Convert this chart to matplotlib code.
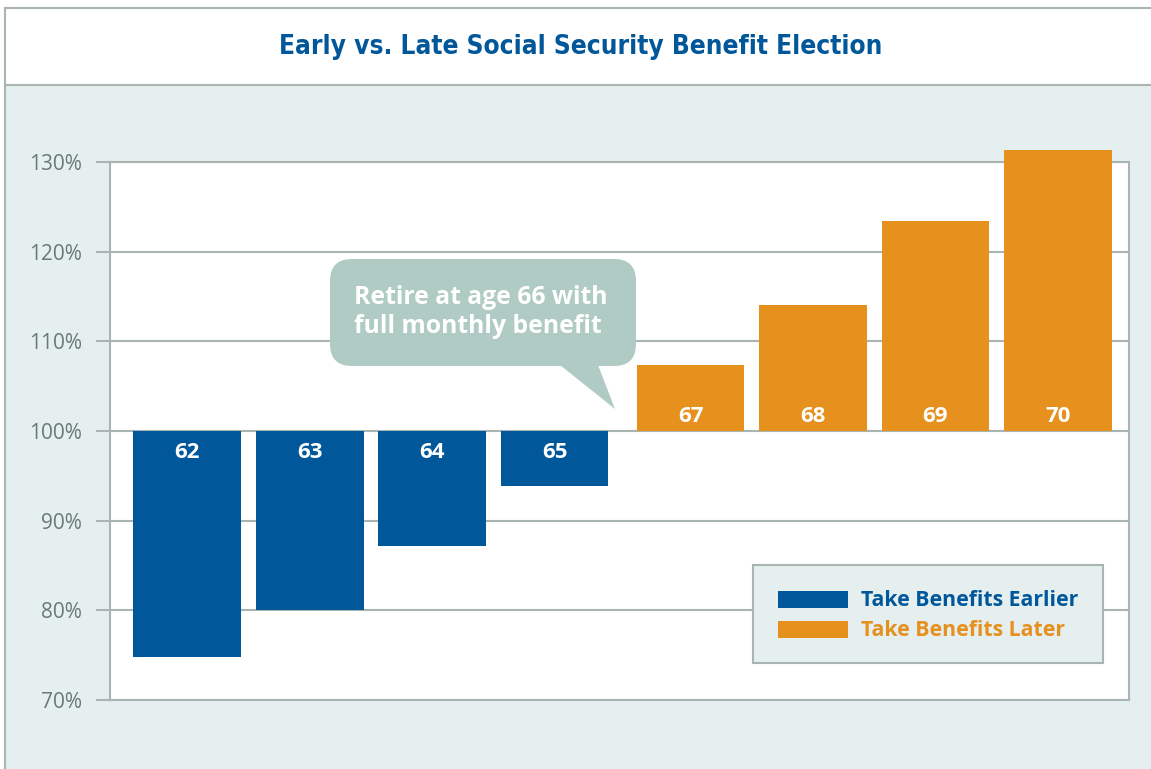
import matplotlib.pyplot as plt
from matplotlib.patches import Rectangle, FancyBboxPatch, Polygon
from matplotlib.lines import Line2D
from matplotlib.transforms import IdentityTransform

ages = ["62", "63", "64", "65", "67", "68", "69", "70"]
benefit = [74.8, 80.0, 87.2, 93.9, 107.4, 114.0, 123.4, 131.3]
early = [True, True, True, True, False, False, False, False]
yticks = [70, 80, 90, 100, 110, 120, 130]
ytick_labels = ["70%", "80%", "90%", "100%", "110%", "120%", "130%"]

BLUE = "#00579a"
ORANGE = "#e6901d"
BG = "#e5eff0"
GRID = "#a9b5b1"
TICK = "#6a7a72"
BUBBLE = "#afcbc3"
FONT = "Open Sans"

W, H = 1151, 769
fig = plt.figure(figsize=(W / 100, H / 100), dpi=100)
fig.patch.set_facecolor("white")
px = IdentityTransform()

# background panel and title band
fig.add_artist(Rectangle((5, 0), W, H - 85, transform=px, facecolor=BG,
                         edgecolor="none", zorder=0))
fig.add_artist(Line2D([5, W], [H - 85, H - 85], transform=px, color=GRID, lw=1.5))
fig.add_artist(Line2D([5, W], [H - 8, H - 8], transform=px, color=GRID, lw=1.5))
fig.add_artist(Line2D([5, 5], [0, H - 8], transform=px, color=GRID, lw=1.5))
fig.text(581 / W, 1 - 47 / H, "Early vs. Late Social Security Benefit Election",
         ha="center", va="center", fontsize=18.8, fontweight="bold", color=BLUE,
         family="DejaVu Sans", fontstretch="condensed")

ax = fig.add_axes([110 / W, 1 - 700 / H, (1129 - 110) / W, (700 - 162) / H])
ax.set_facecolor("white")

# x positions: late group shifted slightly right
xpos = [i + (0.11 if not e else 0.0) for i, e in enumerate(early)]
for x, v, e, lab in zip(xpos, benefit, early, ages):
    col = BLUE if e else ORANGE
    ax.bar(x, v - 100, bottom=100, width=0.88, color=col, zorder=3, clip_on=False)
    ty = 97.6 if e else 101.6
    ax.text(x, ty, lab, ha="center", va="center", color="white",
            fontsize=16, fontweight="bold", family=FONT, zorder=4)

ax.set_xlim(-0.63, 7.69)
ax.set_ylim(70, 130)
ax.set_yticks(yticks)
ax.set_yticklabels(ytick_labels, family=FONT, fontsize=15, color=TICK)
ax.set_xticks([])
ax.tick_params(axis="y", length=10, width=1.5, color=GRID, pad=10)
ax.yaxis.grid(True, color=GRID, lw=1.5, zorder=1)
ax.set_axisbelow(True)
for s in ax.spines.values():
    s.set_color(GRID)
    s.set_linewidth(1.5)

# speech bubble
fig.add_artist(FancyBboxPatch((330, H - 366), 306, 107, transform=px,
                              boxstyle="round,pad=0,rounding_size=22",
                              facecolor=BUBBLE, edgecolor="none", zorder=5))
fig.add_artist(Polygon([(560, H - 365), (598, H - 365), (615, H - 409)],
                       transform=px, closed=True, facecolor=BUBBLE,
                       edgecolor="none", zorder=5))
fig.text(354 / W, 1 - 312 / H, "Retire at age 66 with\nfull monthly benefit",
         ha="left", va="center", fontsize=17.8, fontweight="bold", color="white",
         family=FONT, linespacing=1.25, zorder=6)

# legend box
fig.add_artist(Rectangle((753, H - 663), 350, 98, transform=px, facecolor=BG,
                         edgecolor=GRID, lw=1.5, zorder=5))
fig.add_artist(Rectangle((778, H - 608), 70, 17, transform=px, facecolor=BLUE,
                         edgecolor="none", zorder=6))
fig.add_artist(Rectangle((778, H - 638), 70, 17, transform=px, facecolor=ORANGE,
                         edgecolor="none", zorder=6))
fig.text(861 / W, 1 - 600 / H, "Take Benefits Earlier", ha="left", va="center",
         fontsize=15.3, fontweight="bold", color=BLUE, family=FONT, zorder=6)
fig.text(861 / W, 1 - 630 / H, "Take Benefits Later", ha="left", va="center",
         fontsize=15.3, fontweight="bold", color=ORANGE, family=FONT, zorder=6)

fig.savefig("out.png", dpi=100, facecolor=fig.get_facecolor())
